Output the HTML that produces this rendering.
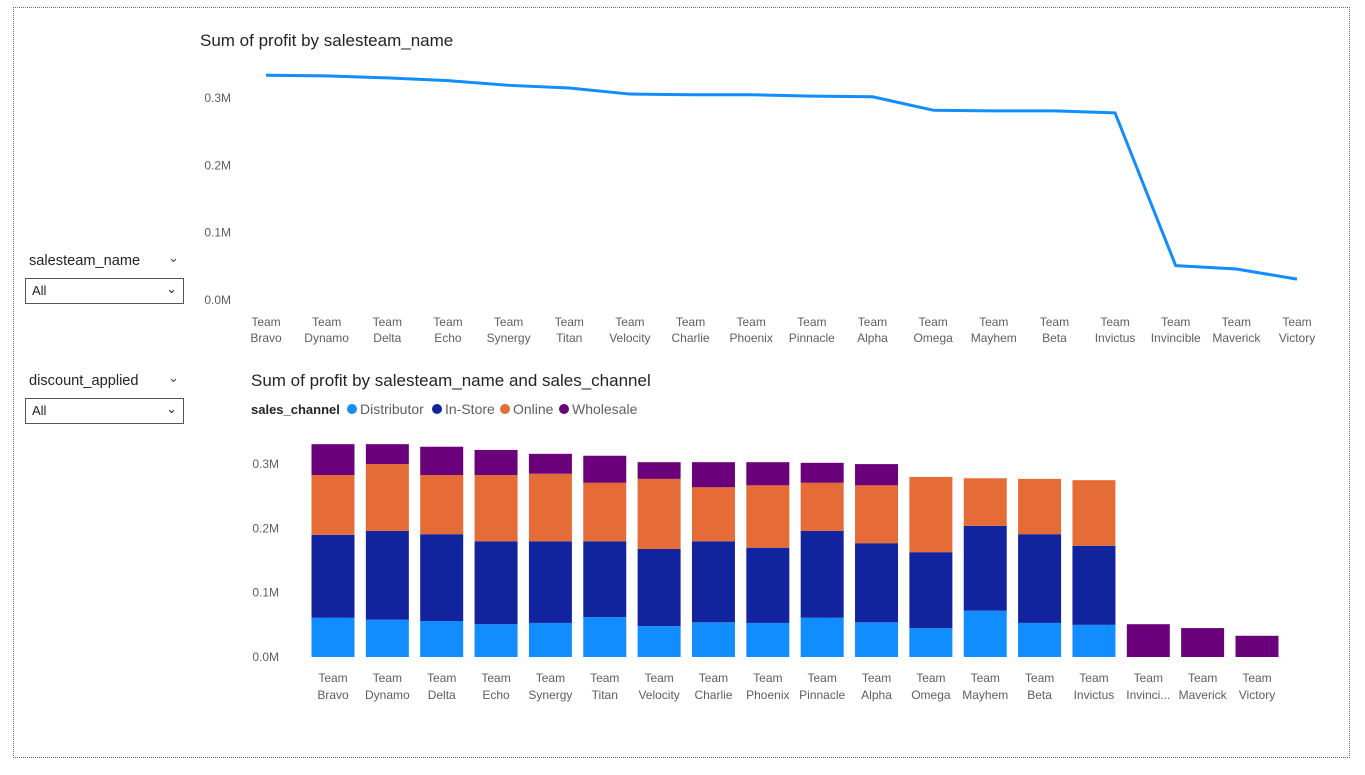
<!DOCTYPE html>
<html><head><meta charset="utf-8">
<style>
body{margin:0;width:1365px;height:775px;background:#fff;font-family:"Segoe UI","Liberation Sans",sans-serif;overflow:hidden;position:relative}
.frame{position:absolute;left:13px;top:7px;width:1335px;height:749px;border:1.5px dotted #666}
.sl-title{position:absolute;left:29px;font-size:14.6px;color:#252423}
.chev{position:absolute;left:168px;font-size:13px;color:#444}
.dd{position:absolute;left:25px;width:159px;height:26px;border:1px solid #555;font-size:13px;color:#252423;box-sizing:border-box;padding:4px 6px}
.dd span{position:absolute;right:6px;top:2px;font-size:13px}
svg text{font-family:"Segoe UI","Liberation Sans",sans-serif}
</style></head><body>
<div class="frame"></div>
<div class="sl-title" style="top:253px">salesteam_name</div>
<div class="chev" style="top:250px">&#8964;</div>
<div class="dd" style="top:278px">All<span>&#8964;</span></div>
<div class="sl-title" style="top:373px">discount_applied</div>
<div class="chev" style="top:370px">&#8964;</div>
<div class="dd" style="top:398px">All<span>&#8964;</span></div>
<svg id="s" width="1365" height="775" style="position:absolute;left:0;top:0">
<text x="200" y="46" font-size="17" fill="#252423">Sum of profit by salesteam_name</text>
<text x="251" y="386" font-size="17" fill="#252423">Sum of profit by salesteam_name and sales_channel</text>
<text x="251" y="414" font-size="13" font-weight="bold" fill="#252423">sales_channel</text>
</svg>
<script>
const teams=["Bravo","Dynamo","Delta","Echo","Synergy","Titan","Velocity","Charlie","Phoenix","Pinnacle","Alpha","Omega","Mayhem","Beta","Invictus","Invincible","Maverick","Victory"];
const barLabels=["Bravo","Dynamo","Delta","Echo","Synergy","Titan","Velocity","Charlie","Phoenix","Pinnacle","Alpha","Omega","Mayhem","Beta","Invictus","Invinci...","Maverick","Victory"];
const totalProfit=[0.334,0.333,0.330,0.326,0.319,0.315,0.306,0.305,0.305,0.303,0.302,0.282,0.281,0.281,0.278,0.051,0.046,0.031];
const distributor=[0.061,0.058,0.056,0.051,0.053,0.062,0.048,0.054,0.053,0.061,0.054,0.045,0.072,0.053,0.050,0,0,0];
const inStore=[0.129,0.138,0.135,0.129,0.127,0.118,0.120,0.126,0.117,0.135,0.123,0.118,0.132,0.138,0.123,0,0,0];
const online=[0.093,0.104,0.092,0.103,0.105,0.091,0.109,0.084,0.097,0.075,0.090,0.117,0.074,0.086,0.102,0,0,0];
const wholesale=[0.048,0.031,0.044,0.039,0.031,0.042,0.026,0.039,0.036,0.031,0.033,0,0,0,0,0.051,0.045,0.033];
const yTicks=[0,0.1,0.2,0.3];
const tickLabels=["0.0M","0.1M","0.2M","0.3M"];
const seriesNames=["Distributor","In-Store","Online","Wholesale"];
const colors=["#118DFF","#12239E","#E66C37","#6B007B"];

const svg=document.getElementById('s');const NS="http://www.w3.org/2000/svg";
function mk(t,a,txt){const e=document.createElementNS(NS,t);for(const k in a)e.setAttribute(k,a[k]);if(txt!=null)e.textContent=txt;svg.appendChild(e);return e;}
const lx=i=>266+i*(1297-266)/(teams.length-1);
const ly=v=>300-v*673;
yTicks.forEach((t,i)=>{const e=mk('text',{x:231,y:ly(t)+4,'font-size':12,fill:'#605E5C','text-anchor':'end'},tickLabels[i]);

});
teams.forEach((t,i)=>{const a=mk('text',{x:lx(i),y:326,'font-size':12,fill:'#605E5C','text-anchor':'middle'},'Team');


const b=mk('text',{x:lx(i),y:342,'font-size':12,fill:'#605E5C','text-anchor':'middle'},t);

});
const pl=mk('polyline',{points:totalProfit.map((v,i)=>lx(i)+','+ly(v)).join(' '),fill:'none',stroke:'#118DFF','stroke-width':3,'stroke-linejoin':'round'});


const legendX=[352,437,505,564];
seriesNames.forEach((n,i)=>{const c=mk('circle',{cx:legendX[i],cy:409,r:5,fill:colors[i]});


const t=mk('text',{x:legendX[i]+8,y:414,'font-size':14,fill:'#605E5C'},n);

});
const bx=i=>333+i*(1257-333)/(teams.length-1);
const by=v=>657-v*643;
yTicks.forEach((t,i)=>{const e=mk('text',{x:279,y:by(t)+4,'font-size':12,fill:'#605E5C','text-anchor':'end'},tickLabels[i]);

});
const series=[distributor,inStore,online,wholesale];
teams.forEach((t,i)=>{let base=0;series.forEach((s,k)=>{const v=s[i];if(v>0){const r=mk('rect',{x:bx(i)-21.5,y:by(base+v),width:43,height:by(base)-by(base+v),fill:colors[k]});

}base+=v;});
const a=mk('text',{x:bx(i),y:682,'font-size':12,fill:'#605E5C','text-anchor':'middle'},'Team');


const b=mk('text',{x:bx(i),y:699,'font-size':12,fill:'#605E5C','text-anchor':'middle'},barLabels[i]);

});
</script>
</body></html>
